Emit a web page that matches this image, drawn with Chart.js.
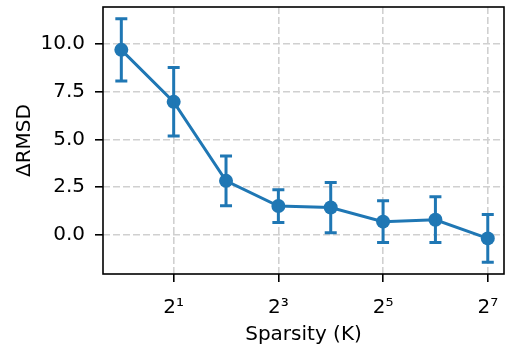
<!DOCTYPE html>
<html><head><meta charset="utf-8">
<script src="https://cdn.jsdelivr.net/npm/chart.js@4/dist/chart.umd.min.js"></script>
<style>html,body{margin:0;padding:0;background:#fff}#wrap{width:505px;height:347px}</style>
</head><body><div id="wrap"><canvas id="c" width="505" height="347"></canvas></div>
<script>
const sparsityK = [1, 2, 4, 8, 16, 32, 64, 128];
const deltaRMSD = [9.70, 6.97, 2.82, 1.50, 1.42, 0.68, 0.78, -0.20];
const errRMSD = [1.63, 1.80, 1.30, 0.86, 1.32, 1.10, 1.20, 1.25];
const xTickValues = [2, 8, 32, 128];
const xTickLabels = ['2¹', '2³', '2⁵', '2⁷'];
const yTickValues = [0, 2.5, 5, 7.5, 10];

const BLUE = '#1f77b4';
const FONT = {family: 'DejaVu Sans', size: 20};

const errorBars = {
  id: 'errorBars',
  afterDatasetsDraw(chart) {
    const ctx = chart.ctx, xs = chart.scales.x, ys = chart.scales.y;
    ctx.save();
    ctx.strokeStyle = BLUE; ctx.lineWidth = 3; ctx.lineCap = 'butt';
    sparsityK.forEach((k, i) => {
      const px = xs.getPixelForValue(k);
      const top = ys.getPixelForValue(deltaRMSD[i] + errRMSD[i]);
      const bot = ys.getPixelForValue(deltaRMSD[i] - errRMSD[i]);
      ctx.beginPath();
      ctx.moveTo(px, top); ctx.lineTo(px, bot);
      ctx.moveTo(px - 6, top); ctx.lineTo(px + 6, top);
      ctx.moveTo(px - 6, bot); ctx.lineTo(px + 6, bot);
      ctx.stroke();
    });
    ctx.restore();
  },
  afterDraw(chart) {
    const ctx = chart.ctx, a = chart.chartArea;
    ctx.save();
    ctx.strokeStyle = '#000'; ctx.lineWidth = 1.6;
    ctx.strokeRect(a.left, a.top, a.right - a.left, a.bottom - a.top);
    ctx.restore();
  }
};

const gridOpts = {color: '#d0d0d0', lineWidth: 1.6, tickColor: '#000', tickLength: 8, tickBorderDash: [], tickWidth: 1.6};

new Chart(document.getElementById('c'), {
  type: 'line',
  data: {
    datasets: [{
      data: sparsityK.map((k, i) => ({x: k, y: deltaRMSD[i]})),
      borderColor: BLUE, backgroundColor: BLUE,
      borderWidth: 3, pointRadius: 7, pointHoverRadius: 7,
      pointBorderWidth: 0, tension: 0
    }]
  },
  options: {
    responsive: false, animation: false,
    layout: {autoPadding: false, padding: {top: 7, right: 1, left: 0, bottom: 0}},
    plugins: {legend: {display: false}, tooltip: {enabled: false}},
    scales: {
      x: {
        type: 'logarithmic',
        min: Math.pow(2, -0.35), max: Math.pow(2, 7.31),
        afterBuildTicks: s => { s.ticks = xTickValues.map(v => ({value: v})); },
        afterFit: s => { s.height = 73; s.paddingLeft = 0; s.paddingRight = 0; },
        ticks: {
          font: FONT, color: '#000', padding: 14, maxRotation: 0,
          callback: (v) => { const i = xTickValues.indexOf(v); return i >= 0 ? xTickLabels[i] : ''; }
        },
        grid: gridOpts,
        border: {display: false, dash: [7, 3]},
        title: {display: true, text: 'Sparsity (K)', font: FONT, color: '#000', padding: {top: 8, bottom: 0}}
      },
      y: {
        type: 'linear',
        min: -2.07, max: 11.95,
        afterBuildTicks: s => { s.ticks = yTickValues.map(v => ({value: v})); },
        afterFit: s => { s.width = 103; s.paddingTop = 0; s.paddingBottom = 0; },
        ticks: {font: FONT, color: '#000', padding: 10, callback: v => v.toFixed(1)},
        grid: gridOpts,
        border: {display: false, dash: [7, 3]},
        title: {display: true, text: 'ΔRMSD', font: FONT, color: '#000', padding: {top: 13, bottom: 4}}
      }
    }
  },
  plugins: [errorBars]
});
</script></body></html>
